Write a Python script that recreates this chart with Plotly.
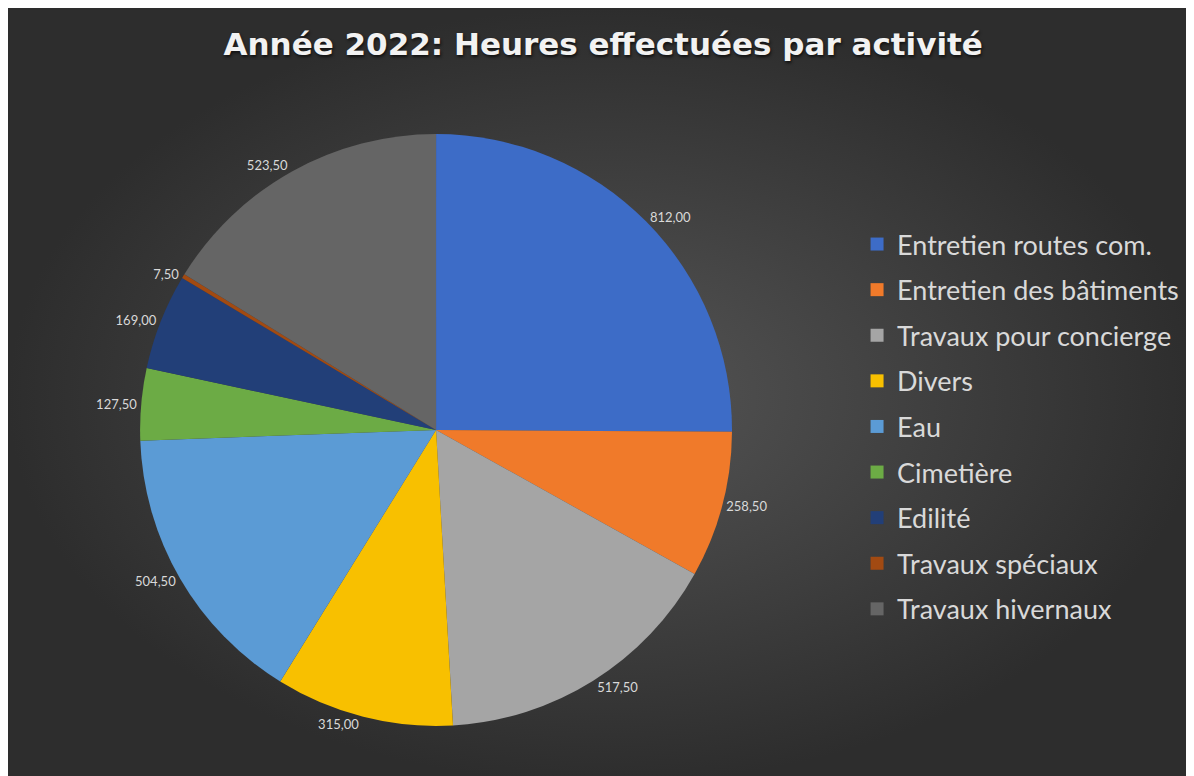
import plotly.graph_objects as go

categories = ["Entretien routes com.", "Entretien des bâtiments", "Travaux pour concierge",
              "Divers", "Eau", "Cimetière", "Edilité", "Travaux spéciaux", "Travaux hivernaux"]
hours = [812.00, 258.50, 517.50, 315.00, 504.50, 127.50, 169.00, 7.50, 523.50]
colors = ["#3d6cc7", "#f07a2a", "#a5a5a5", "#f8c000", "#5b9bd5",
          "#6cab45", "#223f78", "#a24a12", "#656565"]

fig = go.Figure()

# background radial gradient filling the plot area
fig.add_trace(go.Scatter(
    x=[0, 1, 1, 0, 0], y=[0, 0, 1, 1, 0], fill="toself", mode="none",
    fillgradient=dict(type="radial", colorscale=[[0, "#555555"], [1, "#2d2d2d"]]),
    hoverinfo="skip", showlegend=False))

fig.add_trace(go.Pie(
    labels=categories, values=hours, sort=False, direction="clockwise", rotation=0,
    marker=dict(colors=colors, line=dict(width=0)),
    textposition="outside", texttemplate="%{value:.2f}",
    outsidetextfont=dict(family="Lato", size=13, color="#d9d9d9"),
    domain=dict(x=[0.1106, 0.6064], y=[0.0748, 0.8376]),
    showlegend=False, hoverinfo="label+value+percent"))

for cat, col in zip(categories, colors):
    fig.add_trace(go.Scatter(
        x=[None], y=[None], mode="markers", name=cat, legendgroup=cat,
        marker=dict(symbol="square", size=13, color=col)))

fig.update_layout(
    width=1194, height=776,
    paper_bgcolor="white", plot_bgcolor="rgba(0,0,0,0)",
    margin=dict(l=0, r=0, t=0, b=0),
    separators=", ",
    xaxis=dict(visible=False, range=[0, 1], fixedrange=True),
    yaxis=dict(visible=False, range=[0, 1], fixedrange=True),
    title=dict(text="<b>Année 2022: Heures effectuées par activité</b>",
               x=0.4985, xref="paper", xanchor="center",
               y=1 - 36 / 776, yref="container", yanchor="middle",
               font=dict(family="DejaVu Sans", size=31, color="#f2f2f2",
                         shadow="1px 2px 3px #111")),
    legend=dict(x=0.7111, xanchor="left", y=0.7268, yanchor="top",
                font=dict(family="Lato", size=27, color="#d9d9d9"),
                bgcolor="rgba(0,0,0,0)", traceorder="grouped", tracegroupgap=7.5),
    showlegend=True,
)

fig.write_html("out.html")
